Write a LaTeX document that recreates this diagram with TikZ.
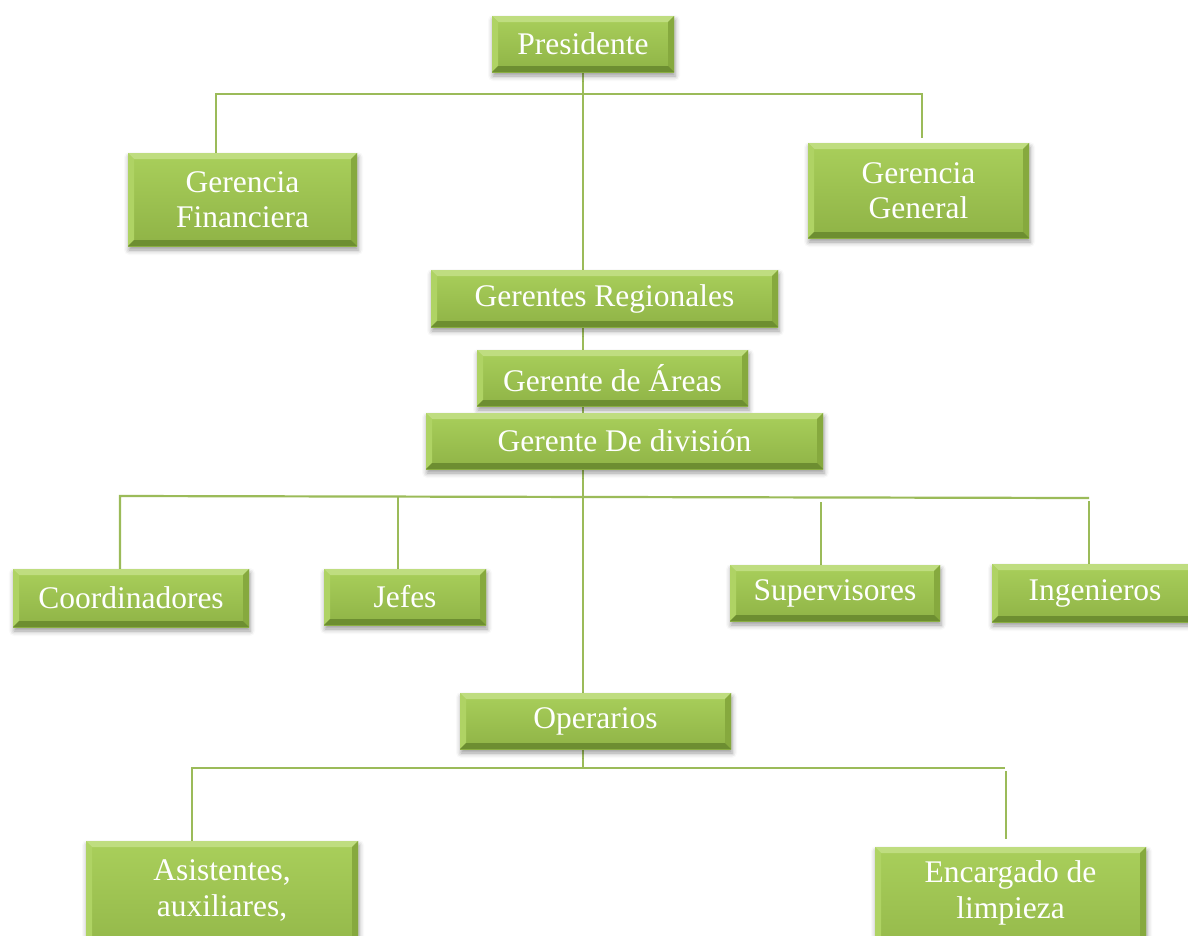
\documentclass[tikz,border=0pt]{standalone}
\usepackage{fontspec}
\setmainfont{Liberation Serif}
\usetikzlibrary{shadows.blur,backgrounds}
\definecolor{lineg}{HTML}{9BBB59}
\definecolor{ftop}{HTML}{A9CF5B}
\definecolor{fbot}{HTML}{8FB346}
\definecolor{bvtop}{HTML}{BFDD80}
\definecolor{bvleft}{HTML}{AFD364}
\definecolor{bvright}{HTML}{86A93E}
\definecolor{bvbot}{HTML}{6D8E31}
\tikzset{
  conn/.style={draw=lineg, line width=2.2pt},
  orgbox/.style={rectangle, inner sep=0pt, text=white, align=center,
    font=\fontsize{31.5}{35}\selectfont,
    top color=ftop, bottom color=fbot, draw=none,
    blur shadow={shadow xshift=1pt, shadow yshift=-4pt, shadow blur radius=5pt, shadow opacity=40},
    path picture={
      \fill[bvtop] (path picture bounding box.north west) -- (path picture bounding box.north east)
        -- ([shift={(-6pt,-6pt)}]path picture bounding box.north east) -- ([shift={(6pt,-6pt)}]path picture bounding box.north west) -- cycle;
      \fill[bvleft] (path picture bounding box.north west) -- (path picture bounding box.south west)
        -- ([shift={(6pt,6pt)}]path picture bounding box.south west) -- ([shift={(6pt,-6pt)}]path picture bounding box.north west) -- cycle;
      \fill[bvright] (path picture bounding box.north east) -- (path picture bounding box.south east)
        -- ([shift={(-6pt,6pt)}]path picture bounding box.south east) -- ([shift={(-6pt,-6pt)}]path picture bounding box.north east) -- cycle;
      \fill[bvbot] (path picture bounding box.south west) -- (path picture bounding box.south east)
        -- ([shift={(-6pt,6pt)}]path picture bounding box.south east) -- ([shift={(6pt,6pt)}]path picture bounding box.south west) -- cycle;
    }},
  bw/.style={minimum width=#1},
  bh/.style={minimum height=#1},
  boxtext/.style={text=white, align=center, inner sep=0pt, font=\fontsize{31.5}{36}\selectfont}
}
\begin{document}
\begin{tikzpicture}[x=1pt,y=-1pt]
\useasboundingbox (0,0) rectangle (1188,935);
% boxes
\node[orgbox,bw=182pt,bh=56pt] (pres) at (583,44) {Presidente};
\node[orgbox,bw=229pt,bh=93pt] (gfin) at (242.5,199.5) {Gerencia\\Financiera};
\node[orgbox,bw=221pt,bh=95pt] (ggen) at (918.5,190.5) {Gerencia\\General};
\node[orgbox,bw=347pt,bh=57pt] (greg) at (604.5,298.5) {Gerentes Regionales};
\node[orgbox,bw=271pt,bh=56pt] (gare) at (612.5,378) {Gerente de Áreas};
\node[orgbox,bw=397pt,bh=56pt] (gdiv) at (624.5,441) {Gerente De división};
\node[orgbox,bw=236pt,bh=58pt] (coor) at (131,598) {Coordinadores};
\node[orgbox,bw=162pt,bh=56pt] (jefe) at (405,597) {Jefes};
\node[orgbox,bw=210pt,bh=56pt] (supe) at (835,593) {Supervisores};
\node[orgbox,bw=206pt,bh=58pt] (inge) at (1095,593) {Ingenieros};
\node[orgbox,bw=271pt,bh=56pt] (oper) at (595.5,721) {Operarios};
\node[orgbox,bw=272pt,bh=130pt] (asis) at (222,906) {};
\node[boxtext] (asistxt) at (222,890) {Asistentes,\\auxiliares,};
\node[orgbox,bw=271pt,bh=130pt] (enca) at (1010.5,912) {};
\node[boxtext] (encatxt) at (1010.5,893) {Encargado de\\limpieza};
% connectors
\begin{scope}[on background layer]
  \coordinate (b1l) at (216,94);
  \coordinate (b1r) at (922,94);
  \coordinate (b1re) at (922,138);
  \draw[conn] (pres.south) -- (pres.south |- oper.north);
  \draw[conn] (b1l |- gfin.north) -- (b1l) -- (b1r) -- (b1re);
  \coordinate (b2l) at (120,496);
  \coordinate (b2r) at (1089,498);
  \coordinate (b2j) at (398,496);
  \coordinate (b2s) at (821,502);
  \coordinate (b2i) at (1089,501);
  \draw[conn] (b2l |- coor.north) -- (b2l) -- (b2r);
  \draw[conn] (b2i) -- (b2i |- inge.north);
  \draw[conn] (b2j) -- (b2j |- jefe.north);
  \draw[conn] (b2s) -- (b2s |- supe.north);
  \coordinate (b3l) at (192,768);
  \coordinate (b3r) at (1005,768);
  \coordinate (b3re) at (1006,771);
  \coordinate (b3ee) at (1006,839);
  \draw[conn] (oper.south -| pres.south) -- (pres.south |- b3l);
  \draw[conn] (b3l |- asis.north) -- (b3l) -- (b3r);
  \draw[conn] (b3re) -- (b3ee);
\end{scope}
\end{tikzpicture}
\end{document}
